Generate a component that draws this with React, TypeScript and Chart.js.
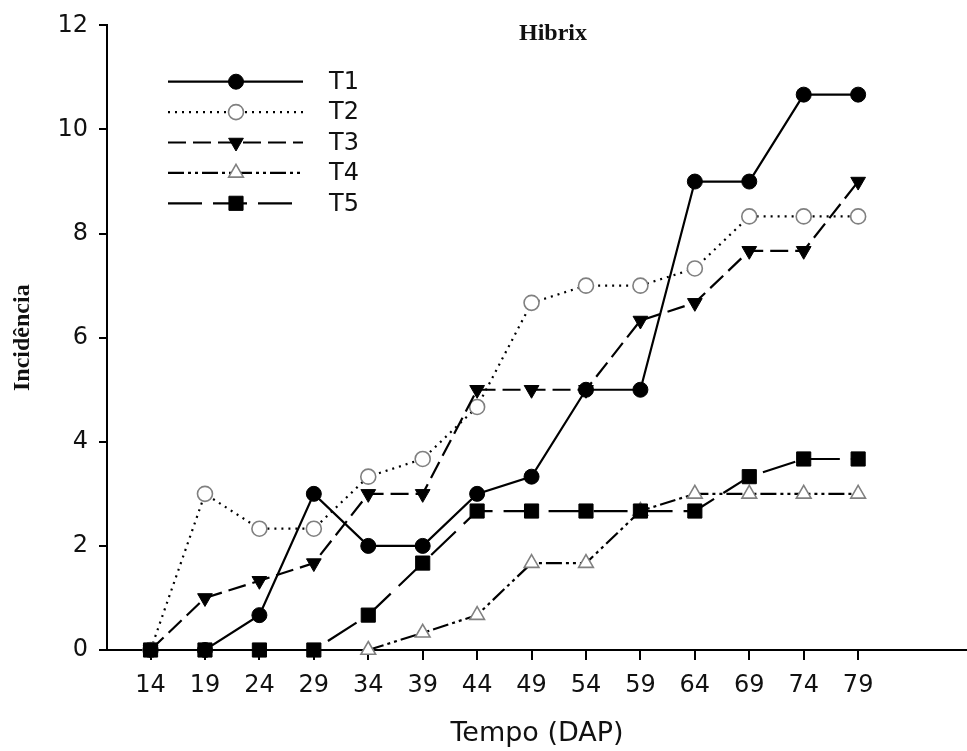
import React, { useEffect, useRef } from 'react';
import { Chart, registerables } from 'chart.js';

Chart.register(...registerables);

// ---- data ----
const days = [14, 19, 24, 29, 34, 39, 44, 49, 54, 59, 64, 69, 74, 79];
const t1 = [0, 0, 0.67, 3, 2, 2, 3, 3.33, 5, 5, 9, 9, 10.67, 10.67];
const t2 = [0, 3, 2.33, 2.33, 3.33, 3.67, 4.67, 6.67, 7, 7, 7.33, 8.33, 8.33, 8.33];
const t3 = [0, 1, 1.33, 1.67, 3, 3, 5, 5, 5, 6.33, 6.67, 7.67, 7.67, 9];
const t4 = [null, null, null, null, 0, 0.33, 0.67, 1.67, 1.67, 2.67, 3, 3, 3, 3];
const t5 = [0, 0, 0, 0, 0.67, 1.67, 2.67, 2.67, 2.67, 2.67, 2.67, 3.33, 3.67, 3.67];
const seriesNames = ['T1', 'T2', 'T3', 'T4', 'T5'];
const chartTitle = 'Hibrix';
const xTitle = 'Tempo (DAP)';
const yTitle = 'Incidência';

const SANS = '"DejaVu Sans", sans-serif';
const SERIF = '"Liberation Serif", serif';

type Style = {
  dash: number[];
  point: string;
  rot: number;
  radius: number;
  fill: string;
  stroke: string;
  pw: number;
  order: number;
};

const styles: Style[] = [
  { dash: [], point: 'circle', rot: 0, radius: 7.5, fill: '#000', stroke: '#000', pw: 1, order: 5 },
  { dash: [2, 5], point: 'circle', rot: 0, radius: 7.5, fill: '#fff', stroke: '#808080', pw: 1.6, order: 4 },
  { dash: [18, 7], point: 'triangle', rot: 180, radius: 8.5, fill: '#000', stroke: '#000', pw: 1, order: 3 },
  { dash: [16, 4, 3, 4, 3, 4], point: 'triangle', rot: 0, radius: 8.5, fill: '#fff', stroke: '#808080', pw: 1.6, order: 2 },
  { dash: [34, 11], point: 'rect', rot: 0, radius: 10, fill: '#000', stroke: '#000', pw: 1, order: 1 },
];

const seriesValues = [t1, t2, t3, t4, t5];

function drawMarker(ctx: CanvasRenderingContext2D, s: Style, x: number, y: number) {
  ctx.save();
  ctx.setLineDash([]);
  ctx.fillStyle = s.fill;
  ctx.strokeStyle = s.stroke;
  ctx.lineWidth = s.pw;
  ctx.beginPath();
  const r = s.radius;
  if (s.point === 'circle') {
    ctx.arc(x, y, r, 0, Math.PI * 2);
  } else if (s.point === 'triangle') {
    let a = (s.rot * Math.PI) / 180;
    ctx.moveTo(x + Math.sin(a) * r, y - Math.cos(a) * r);
    a += (2 * Math.PI) / 3;
    ctx.lineTo(x + Math.sin(a) * r, y - Math.cos(a) * r);
    a += (2 * Math.PI) / 3;
    ctx.lineTo(x + Math.sin(a) * r, y - Math.cos(a) * r);
  } else {
    const h = Math.SQRT1_2 * r;
    ctx.rect(x - h, y - h, 2 * h, 2 * h);
  }
  ctx.closePath();
  ctx.fill();
  ctx.stroke();
  ctx.restore();
}

const overlayPlugin = {
  id: 'overlay',
  afterDraw(chart: any) {
    const ctx: CanvasRenderingContext2D = chart.ctx;
    ctx.save();
    // title
    ctx.fillStyle = '#111';
    ctx.font = `bold 24px ${SERIF}`;
    ctx.textAlign = 'center';
    ctx.textBaseline = 'middle';
    ctx.fillText(chartTitle, 553, 34);
    // legend
    const x0 = 168;
    const x1 = 303;
    const mx = 236;
    seriesNames.forEach((name, i) => {
      const s = styles[i];
      const y = 81.7 + i * 30.4;
      ctx.save();
      ctx.strokeStyle = '#000';
      ctx.lineWidth = 2.2;
      ctx.setLineDash(s.dash);
      ctx.beginPath();
      ctx.moveTo(x0, y);
      ctx.lineTo(x1, y);
      ctx.stroke();
      ctx.restore();
      drawMarker(ctx, s, mx, y);
      ctx.fillStyle = '#111';
      ctx.font = `24px ${SANS}`;
      ctx.textAlign = 'left';
      ctx.textBaseline = 'middle';
      ctx.fillText(name, 329, y + 1);
    });
    ctx.restore();
  },
};

export default function App() {
  const ref = useRef<HTMLCanvasElement | null>(null);

  useEffect(() => {
    if (!ref.current) return;
    const datasets = seriesNames.map((name, i) => {
      const s = styles[i];
      return {
        label: name,
        data: days.map((d, j) => ({ x: d, y: seriesValues[i][j] })),
        borderColor: '#000',
        borderWidth: 2.2,
        borderDash: s.dash,
        backgroundColor: s.fill,
        pointStyle: s.point,
        pointRotation: s.rot,
        pointRadius: s.radius,
        pointBackgroundColor: s.fill,
        pointBorderColor: s.stroke,
        pointBorderWidth: s.pw,
        tension: 0,
        fill: false,
        order: s.order,
        clip: false,
      };
    });

    const chart = new Chart(ref.current, {
      type: 'line',
      data: { datasets },
      options: {
        animation: false,
        responsive: false,
        devicePixelRatio: 1,
        layout: { autoPadding: false, padding: { top: 24, left: 0, right: 0, bottom: 0 } },
        plugins: {
          legend: { display: false },
          tooltip: { enabled: false },
          title: { display: false },
        },
        scales: {
          x: {
            type: 'linear',
            min: 10,
            max: 89,
            afterBuildTicks: (scale: any) => {
              scale.ticks = days.map((v) => ({ value: v }));
            },
            afterFit: (scale: any) => {
              scale.height = 101;
            },
            ticks: {
              autoSkip: false,
              maxRotation: 0,
              color: '#111',
              padding: 11,
              font: { family: SANS, size: 24 },
            },
            grid: {
              display: true,
              drawOnChartArea: false,
              drawTicks: true,
              tickLength: 10,
              color: '#000',
              lineWidth: 2,
            },
            border: { display: true, color: '#000', width: 2 },
            title: {
              display: true,
              text: xTitle,
              color: '#111',
              font: { family: SANS, size: 27 },
              padding: { top: 0, bottom: 1 },
            },
          },
          y: {
            type: 'linear',
            min: 0,
            max: 12,
            afterFit: (scale: any) => {
              scale.width = 107;
            },
            ticks: {
              stepSize: 2,
              color: '#111',
              padding: 11,
              font: { family: SANS, size: 24 },
            },
            grid: {
              display: true,
              drawOnChartArea: false,
              drawTicks: true,
              tickLength: 8,
              color: '#000',
              lineWidth: 2,
            },
            border: { display: true, color: '#000', width: 2 },
            title: {
              display: true,
              text: yTitle,
              color: '#111',
              font: { family: SERIF, size: 24, weight: 'bold' },
              padding: { top: 8, bottom: 0 },
            },
          },
        },
      },
      plugins: [overlayPlugin],
    } as any);

    return () => chart.destroy();
  }, []);

  return (
    <div style={{ position: 'fixed', left: 0, top: 0, width: 967, height: 751, background: '#fff' }}>
      <canvas ref={ref} width={967} height={751} style={{ display: 'block' }} />
    </div>
  );
}
